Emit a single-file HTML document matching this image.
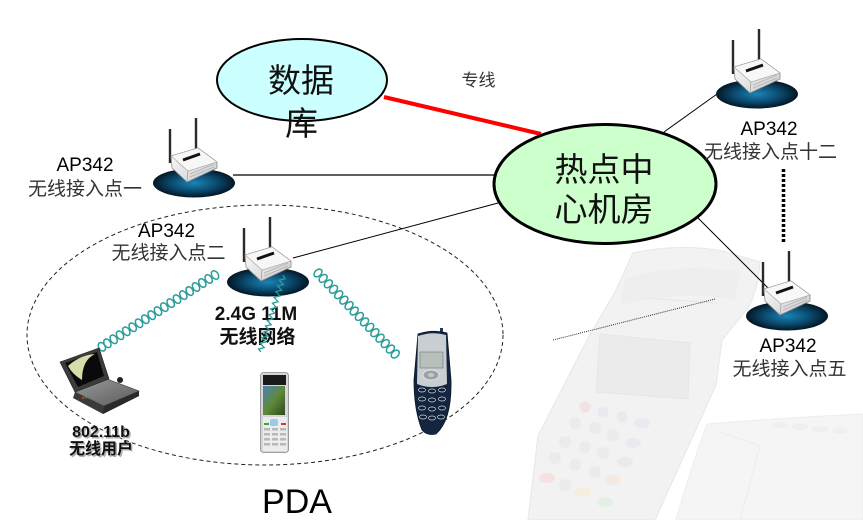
<!DOCTYPE html>
<html><head><meta charset="utf-8"><style>
html,body{margin:0;padding:0;background:#fff;}
svg{display:block;}
.cj{font-family:"Liberation Sans","Noto Sans CJK SC",sans-serif;}
</style></head><body>
<svg width="863" height="520" viewBox="0 0 863 520" xmlns="http://www.w3.org/2000/svg">
<defs>
<radialGradient id="apg" cx="50%" cy="50%" r="55%">
<stop offset="0" stop-color="#1a84b6"/>
<stop offset="0.5" stop-color="#0b4c72"/>
<stop offset="1" stop-color="#010b12"/>
</radialGradient>
<linearGradient id="rb" x1="0" y1="0" x2="1" y2="1">
<stop offset="0" stop-color="#ffffff"/>
<stop offset="1" stop-color="#c8c8c8"/>
</linearGradient>
<linearGradient id="lapb" x1="0" y1="0" x2="1" y2="1">
<stop offset="0" stop-color="#9a9a9a"/>
<stop offset="1" stop-color="#5a5a5a"/>
</linearGradient>
<linearGradient id="scr" x1="0" y1="0" x2="1" y2="1">
<stop offset="0" stop-color="#4c7fb8"/>
<stop offset="0.5" stop-color="#5f8a3a"/>
<stop offset="1" stop-color="#2d4a1c"/>
</linearGradient>
<g id="ap">
<ellipse cx="0" cy="0" rx="41" ry="14.5" fill="url(#apg)"/>
<line x1="-24" y1="-20" x2="-24" y2="-54" stroke="#2a2a2a" stroke-width="2.4"/>
<line x1="2" y1="-30" x2="2" y2="-65" stroke="#2a2a2a" stroke-width="2.4"/>
<polygon points="-23,-27 4,-35 23,-21 23,-15 -7,-1 -22,-15" fill="url(#rb)" stroke="#8a8a8a" stroke-width="0.8"/>
<polygon points="-23,-27 4,-35 23,-21 -6,-12" fill="#f7f7f7" stroke="#a0a0a0" stroke-width="0.6"/>
<line x1="-11" y1="-23" x2="6" y2="-29" stroke="#111" stroke-width="3"/>
<line x1="-6" y1="-12" x2="-7" y2="-1" stroke="#999" stroke-width="0.7"/>
<path d="M-4,-9 L20,-19 M-4,-6 L20,-16" stroke="#b0b0b0" stroke-width="0.8"/>
</g>
<g id="coil">
<ellipse cx="0" cy="0" rx="3.2" ry="4.6" fill="none" stroke="#2a9d9a" stroke-width="1.5"/>
</g>
</defs>
<rect width="863" height="520" fill="#fff"/>

<!-- faint POS background -->
<g>
<path d="M707,424 Q780,418 863,414 L863,520 L676,520 Q690,470 707,424 Z" fill="#f5f5f5" stroke="#ededed"/>
<path d="M720,432 L760,446 L740,520" fill="none" stroke="#ececec"/>
<g fill="#efeff2"><ellipse cx="780" cy="425" rx="8" ry="3"/><ellipse cx="800" cy="427" rx="8" ry="3"/><ellipse cx="820" cy="429" rx="8" ry="3"/><ellipse cx="840" cy="431" rx="8" ry="3"/></g>
<path d="M633,253 Q680,243 722,251 L760,262 Q758,290 748,308 L722,340 L716,385 L655,520 L528,520 L538,436 L588,338 L615,292 Z" fill="#f2f2f2" stroke="#e9e9e9" stroke-width="1.2"/>
<path d="M625,278 Q680,262 740,272 L735,300 Q680,290 620,305 Z" fill="#eeeeee"/>
<line x1="643" y1="298" x2="717" y2="303" stroke="#e6e6e6"/>
<polygon points="600,334 690,343 688,399 596,392" fill="#ebebeb" stroke="#e6e6e6"/>
<g>
<circle cx="585" cy="407" r="5.5" fill="#f4e2e2"/><circle cx="603" cy="412" r="5.5" fill="#e9eaf0"/><circle cx="622" cy="417" r="5.5" fill="#e9eaf0"/><ellipse cx="642" cy="423" rx="8" ry="5" fill="#e9eaf0"/>
<circle cx="575" cy="423" r="6" fill="#ebebeb"/><circle cx="595" cy="428" r="6" fill="#ebebeb"/><circle cx="613" cy="435" r="6" fill="#ebebeb"/><ellipse cx="633" cy="443" rx="8" ry="5" fill="#e9eaf0"/>
<circle cx="565" cy="442" r="6" fill="#ebebeb"/><circle cx="585" cy="447" r="6" fill="#ebebeb"/><circle cx="603" cy="453" r="6" fill="#ebebeb"/><ellipse cx="625" cy="462" rx="8" ry="5" fill="#e9eaf0"/>
<circle cx="555" cy="458" r="6" fill="#ebebeb"/><circle cx="575" cy="465" r="6" fill="#ebebeb"/><circle cx="595" cy="472" r="6" fill="#ebebeb"/><ellipse cx="613" cy="480" rx="8" ry="5" fill="#f4eadf"/>
<ellipse cx="547" cy="478" rx="8" ry="5" fill="#f4e2e2"/><circle cx="565" cy="485" r="6" fill="#ebebeb"/><ellipse cx="583" cy="492" rx="8" ry="5" fill="#f5eedc"/><ellipse cx="605" cy="502" rx="8" ry="5" fill="#e2f0e4"/>
</g>
</g>

<!-- dashed big ellipse -->
<ellipse cx="265" cy="335" rx="238" ry="130" fill="none" stroke="#222" stroke-width="1" stroke-dasharray="4,3"/>

<!-- connectors -->
<line x1="384" y1="97" x2="541" y2="134" stroke="#ff0000" stroke-width="4"/>
<line x1="233" y1="175" x2="496" y2="175" stroke="#000" stroke-width="1.2"/>
<line x1="293" y1="258" x2="498" y2="203" stroke="#000" stroke-width="1"/>
<line x1="664" y1="132" x2="717" y2="94" stroke="#000" stroke-width="1"/>
<line x1="698" y1="218" x2="768" y2="288" stroke="#000" stroke-width="1"/>
<line x1="783.5" y1="169" x2="783.5" y2="243" stroke="#000" stroke-width="3.5" stroke-dasharray="3,2"/>
<line x1="553" y1="340" x2="715" y2="299" stroke="#333" stroke-width="1" stroke-dasharray="1,1"/>

<!-- database ellipse -->
<ellipse cx="302" cy="80" rx="85" ry="41" fill="#ccffff" stroke="#000" stroke-width="2"/>
<text x="301" y="92" font-size="33" text-anchor="middle" class="cj" fill="#111">数据</text>
<text x="301.5" y="135" font-size="33" text-anchor="middle" class="cj" fill="#111">库</text>

<text x="478.5" y="86" font-size="17" text-anchor="middle" class="cj" fill="#333">专线</text>

<!-- hotspot -->
<ellipse cx="605" cy="184" rx="111" ry="59.5" fill="#ccffcc" stroke="#000" stroke-width="3"/>
<text x="604" y="181" font-size="33" text-anchor="middle" class="cj" fill="#111">热点中</text>
<text x="604" y="221" font-size="33" text-anchor="middle" class="cj" fill="#111">心机房</text>

<!-- APs -->
<use href="#ap" x="194" y="183"/>
<use href="#ap" x="268" y="282"/>
<use href="#ap" x="757" y="94"/>
<use href="#ap" x="787" y="316"/>

<!-- AP labels -->
<g font-size="19" text-anchor="middle" class="cj">
<text x="85" y="171" fill="#000">AP342</text>
<text x="85" y="195" fill="#333">无线接入点一</text>
<text x="166.5" y="237" fill="#000">AP342</text>
<text x="168.5" y="259" fill="#333">无线接入点二</text>
<text x="769" y="135" fill="#000">AP342</text>
<text x="770.5" y="158" fill="#333">无线接入点十二</text>
<text x="788" y="352" fill="#000">AP342</text>
<text x="789.5" y="375" fill="#333">无线接入点五</text>
</g>

<!-- labels center -->
<text x="256" y="320" font-size="19" font-weight="bold" text-anchor="middle" class="cj" fill="#111">2.4G 11M</text>
<text x="257.5" y="343" font-size="19" font-weight="bold" text-anchor="middle" class="cj" fill="#111">无线网络</text>

<g font-size="16" font-weight="bold" text-anchor="middle" class="cj">
<text x="102.5" y="438.5" fill="#aaa">802.11b</text>
<text x="102.5" y="455.5" fill="#aaa">无线用户</text>
<text x="101" y="437" fill="#111">802.11b</text>
<text x="101" y="454" fill="#111">无线用户</text>
</g>

<text x="297" y="513" font-size="34" text-anchor="middle" font-family="Liberation Sans, sans-serif" fill="#000">PDA</text>

<!-- coils -->
<g transform="translate(215,275) rotate(147.6)">
<use href="#coil" x="0"/><use href="#coil" x="7.5"/><use href="#coil" x="15"/><use href="#coil" x="22.5"/><use href="#coil" x="30"/><use href="#coil" x="37.5"/><use href="#coil" x="45"/><use href="#coil" x="52.5"/><use href="#coil" x="60"/><use href="#coil" x="67.5"/><use href="#coil" x="75"/><use href="#coil" x="82.5"/><use href="#coil" x="90"/><use href="#coil" x="97.5"/><use href="#coil" x="105"/><use href="#coil" x="112.5"/><use href="#coil" x="120"/><use href="#coil" x="127.5"/><use href="#coil" x="134"/>
</g>
<g transform="translate(318,273) rotate(46.4)">
<use href="#coil" x="0"/><use href="#coil" x="7.5"/><use href="#coil" x="15"/><use href="#coil" x="22.5"/><use href="#coil" x="30"/><use href="#coil" x="37.5"/><use href="#coil" x="45"/><use href="#coil" x="52.5"/><use href="#coil" x="60"/><use href="#coil" x="67.5"/><use href="#coil" x="75"/><use href="#coil" x="82.5"/><use href="#coil" x="90"/><use href="#coil" x="97.5"/><use href="#coil" x="105"/><use href="#coil" x="112"/>
</g>
<g transform="translate(283,275) rotate(106.8)">
<path d="M0,0 l3,-3 l3,5 l3,-5 l3,5 l3,-5 l3,5 l3,-5 l3,5 l3,-5 l3,5 l3,-5 l3,5 l3,-5 l3,5 l3,-5 l3,5 l3,-5 l3,5 l3,-5 l3,5 l3,-5 l3,5 l3,-5 l3,5 l3,-5 l3,5 l2,-3" fill="none" stroke="#2a9d9a" stroke-width="1.3"/>
</g>

<!-- laptop -->
<g>
<polygon points="75,392 107,379 139,391 139,396 103,414 73,398" fill="#3a3a3a"/>
<polygon points="75,392 107,379 139,391 104,406" fill="url(#lapb)" stroke="#444" stroke-width="0.6"/>
<polygon points="104,406 139,391 139,396 103,414" fill="#2a2a2a"/>
<circle cx="120" cy="380" r="3" fill="#222"/>
<polygon points="60,362 99,348 109,379 75,392" fill="#3c3c3c" stroke="#222" stroke-width="0.6"/>
<polygon points="65,363 97,352 104,376 78,387" fill="#0a0a0a"/>
<path d="M68,366 Q80,355 95,354 Q82,360 82,380 Q72,374 68,366 Z" fill="#d8dcaa"/>
<circle cx="83" cy="398" r="1.2" fill="#c33"/><circle cx="86" cy="397" r="1.2" fill="#3a3"/>
</g>

<!-- middle phone -->
<g>
<rect x="260.5" y="372.5" width="28" height="80" rx="3" fill="#d6d6da" stroke="#888" stroke-width="0.8"/>
<rect x="263" y="375" width="23" height="10" fill="#1a1a1a"/>
<rect x="263" y="386" width="22" height="29" fill="url(#scr)"/>
<rect x="263" y="417" width="24" height="34" fill="#ececec"/>
<rect x="270" y="419" width="8" height="7" rx="2" fill="#9cc8ea"/>
<g fill="#b8b8bc">
<rect x="264" y="428" width="6" height="2.5"/><rect x="272" y="428" width="6" height="2.5"/><rect x="280" y="428" width="6" height="2.5"/>
<rect x="264" y="433" width="6" height="2.5"/><rect x="272" y="433" width="6" height="2.5"/><rect x="280" y="433" width="6" height="2.5"/>
<rect x="264" y="438" width="6" height="2.5"/><rect x="272" y="438" width="6" height="2.5"/><rect x="280" y="438" width="6" height="2.5"/>
<rect x="264" y="443" width="6" height="2.5"/><rect x="272" y="443" width="6" height="2.5"/><rect x="280" y="443" width="6" height="2.5"/>
</g>
<rect x="281" y="423" width="5" height="2" fill="#d33"/>
<rect x="264" y="423" width="5" height="2" fill="#3a3"/>
</g>

<!-- right phone -->
<g>
<rect x="440" y="328" width="3" height="6" fill="#1c3b66"/>
<path d="M418,334 Q432,329 447,333 L451,380 Q452,420 436,434 Q427,436 422,430 Q414,410 414,380 Z" fill="#14263f" stroke="#0a1525" stroke-width="0.8"/>
<path d="M418,336 Q432,331 446,335 L447,384 Q432,390 417,384 Z" fill="#c9ced2"/>
<rect x="420" y="352" width="23" height="16" fill="#b6bfb9" stroke="#666" stroke-width="0.5"/>
<ellipse cx="431" cy="375" rx="8" ry="5" fill="#9aa2aa" stroke="#eee" stroke-width="0.8"/>
<ellipse cx="431" cy="375" rx="3" ry="2" fill="#c8c8c8"/>
<g fill="#0d1c30" stroke="#cfd8e0" stroke-width="0.7">
<ellipse cx="422" cy="390" rx="3.5" ry="2"/><ellipse cx="432" cy="391" rx="3.5" ry="2"/><ellipse cx="442" cy="390" rx="3.5" ry="2"/>
<ellipse cx="422" cy="399" rx="3.5" ry="2"/><ellipse cx="432" cy="400" rx="3.5" ry="2"/><ellipse cx="442" cy="399" rx="3.5" ry="2"/>
<ellipse cx="422" cy="408" rx="3.5" ry="2"/><ellipse cx="432" cy="409" rx="3.5" ry="2"/><ellipse cx="442" cy="408" rx="3.5" ry="2"/>
<ellipse cx="423" cy="417" rx="3.5" ry="2"/><ellipse cx="432" cy="418" rx="3.5" ry="2"/><ellipse cx="441" cy="417" rx="3.5" ry="2"/>
</g>
</g>
</svg>
</body></html>
